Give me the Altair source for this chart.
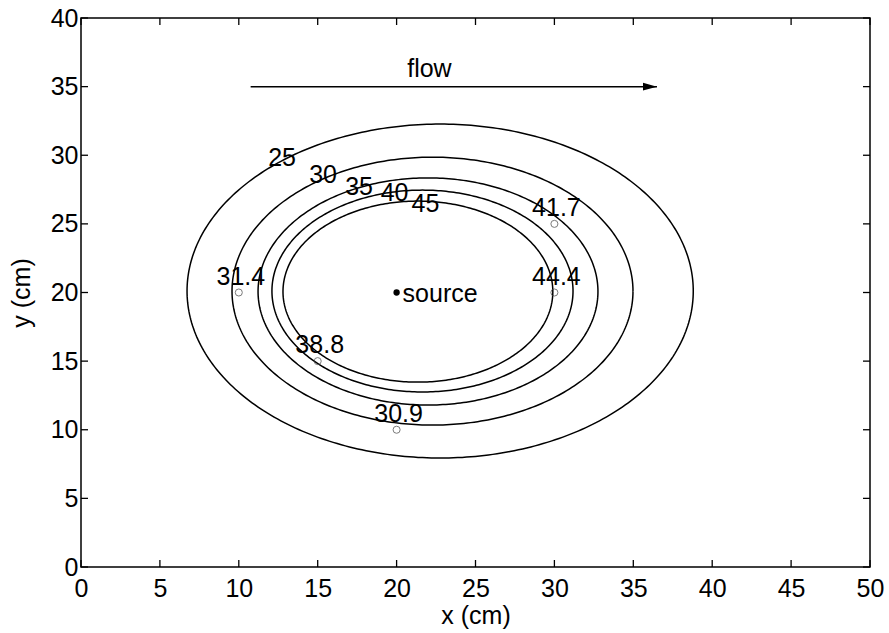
import altair as alt
import numpy as np
import pandas as pd

# Closed concentration contours: level and the extents of each ring (cm)
levels = [25, 30, 35, 40, 45]
x_left = [6.72, 9.57, 11.22, 12.10, 12.80]
x_right = [38.80, 34.98, 32.76, 31.18, 29.90]
y_bottom = [7.94, 10.34, 11.80, 12.75, 13.47]
y_top = [32.27, 29.86, 28.35, 27.46, 26.66]

# Inline contour label positions
label_x = [12.74, 15.34, 17.62, 19.87, 21.83]
label_y = [29.79, 28.55, 27.71, 27.24, 26.44]

# Sampling points and measured values
obs_x = [10, 15, 20, 30, 30]
obs_y = [20, 15, 10, 25, 20]
obs_val = ["31.4", "38.8", "30.9", "41.7", "44.4"]

# Source location
source_x = [20]
source_y = [20]

# Flow direction arrow
arrow_x = [10.75, 36.5]
arrow_y = [35, 35]
flow_label_x = [22.08]

x_ticks = list(range(0, 51, 5))
y_ticks = list(range(0, 41, 5))

W, H = 789, 549
FONT = "Liberation Sans"
FS = 25
TICK = 7

xs = alt.Scale(domain=[0, 50], nice=False, zero=False)
ys = alt.Scale(domain=[0, 40], nice=False, zero=False)

x_axis = alt.Axis(
    values=x_ticks, title="x (cm)", labelPadding=9,
    labelFlush=False, labelOverlap=False,
    titleY=56, titleBaseline="alphabetic")
y_axis = alt.Axis(
    values=y_ticks, title="y (cm)", labelPadding=3,
    labelFlush=False, labelOverlap=False,
    titleX=-52, titleY=H / 2, titleAngle=270,
    titleBaseline="alphabetic")


def X(field):
    return alt.X(field, scale=xs, axis=x_axis)


def Y(field):
    return alt.Y(field, scale=ys, axis=y_axis)


# Trace each contour as an ellipse through its four extents
t = np.linspace(0, 2 * np.pi, 361)
rows = []
for lev, l, r, b, tp in zip(levels, x_left, x_right, y_bottom, y_top):
    cx, cy = (l + r) / 2, (b + tp) / 2
    a, bb = (r - l) / 2, (tp - b) / 2
    for i, th in enumerate(t):
        rows.append({"level": lev, "i": i,
                     "x": cx + a * np.cos(th), "y": cy + bb * np.sin(th)})
contours = pd.DataFrame(rows)

contour_lines = alt.Chart(contours).mark_line(
    color="black", strokeWidth=1.5
).encode(
    x=X("x:Q"), y=Y("y:Q"),
    detail="level:N",
    order="i:Q",
)

contour_df = pd.DataFrame({"x": label_x, "y": label_y,
                           "txt": [str(v) for v in levels]})
contour_text = alt.Chart(contour_df).mark_text(
    font=FONT, fontSize=FS, color="black", align="center", baseline="middle"
).encode(x=X("x:Q"), y=Y("y:Q"), text="txt:N")

obs_df = pd.DataFrame({"x": obs_x, "y": obs_y, "val": obs_val})
obs_points = alt.Chart(obs_df).mark_point(
    shape="circle", filled=False, color="#444444", strokeWidth=1, size=50
).encode(x=X("x:Q"), y=Y("y:Q"))
obs_text = alt.Chart(obs_df).mark_text(
    font=FONT, fontSize=FS, color="black", align="center",
    baseline="alphabetic", dx=2, dy=-8
).encode(x=X("x:Q"), y=Y("y:Q"), text="val:N")

src_df = pd.DataFrame({"x": source_x, "y": source_y, "txt": ["source"]})
src_point = alt.Chart(src_df).mark_point(
    shape="circle", filled=True, color="black", opacity=1, size=40
).encode(x=X("x:Q"), y=Y("y:Q"))
src_text = alt.Chart(src_df).mark_text(
    font=FONT, fontSize=FS, color="black", align="left",
    baseline="alphabetic", dx=6, dy=9
).encode(x=X("x:Q"), y=Y("y:Q"), text="txt:N")

arrow_df = pd.DataFrame({"x": [arrow_x[0]], "x2": [arrow_x[1]], "y": [arrow_y[0]]})
arrow_line = alt.Chart(arrow_df).mark_rule(color="black", strokeWidth=1.5).encode(
    x=X("x:Q"), x2="x2:Q", y=Y("y:Q"))
head_df = pd.DataFrame({"x": [arrow_x[1]], "y": [arrow_y[1]]})
arrow_head = alt.Chart(head_df).mark_point(
    shape="M0,0 L-2,-0.55 L-2,0.55 Z", filled=True, color="black",
    opacity=1, size=196, strokeWidth=0
).encode(x=X("x:Q"), y=Y("y:Q"))
flow_df = pd.DataFrame({"x": flow_label_x, "y": [arrow_y[0]], "txt": ["flow"]})
flow_text = alt.Chart(flow_df).mark_text(
    font=FONT, fontSize=FS, color="black", align="center",
    baseline="alphabetic", dy=-10
).encode(x=X("x:Q"), y=Y("y:Q"), text="txt:N")

# Inward tick marks on all four sides of the box
xt = pd.DataFrame({"x": x_ticks})
yt = pd.DataFrame({"y": y_ticks})
tick_style = dict(color="black", strokeWidth=1.3)
ticks_bottom = alt.Chart(xt).mark_rule(**tick_style).encode(
    x=X("x:Q"), y=alt.value(H), y2=alt.value(H - TICK))
ticks_top = alt.Chart(xt).mark_rule(**tick_style).encode(
    x=X("x:Q"), y=alt.value(0), y2=alt.value(TICK))
ticks_left = alt.Chart(yt).mark_rule(**tick_style).encode(
    y=Y("y:Q"), x=alt.value(0), x2=alt.value(TICK))
ticks_right = alt.Chart(yt).mark_rule(**tick_style).encode(
    y=Y("y:Q"), x=alt.value(W), x2=alt.value(W - TICK))

chart = alt.layer(
    contour_lines, contour_text, obs_points, obs_text, src_point, src_text,
    arrow_line, arrow_head, flow_text,
    ticks_bottom, ticks_top, ticks_left, ticks_right,
).properties(
    width=W, height=H,
    autosize=alt.AutoSizeParams(type="none"),
    padding={"left": 81, "top": 18, "right": 19, "bottom": 66},
    background="white",
).configure_view(
    stroke="black", strokeWidth=1.5
).configure_axis(
    domain=False, ticks=False, grid=False,
    labelFont=FONT, labelFontSize=FS, labelColor="black",
    titleFont=FONT, titleFontSize=FS, titleColor="black",
    titleFontWeight="normal",
)

chart.save("out.html", embed_options={"renderer": "svg", "actions": False})
